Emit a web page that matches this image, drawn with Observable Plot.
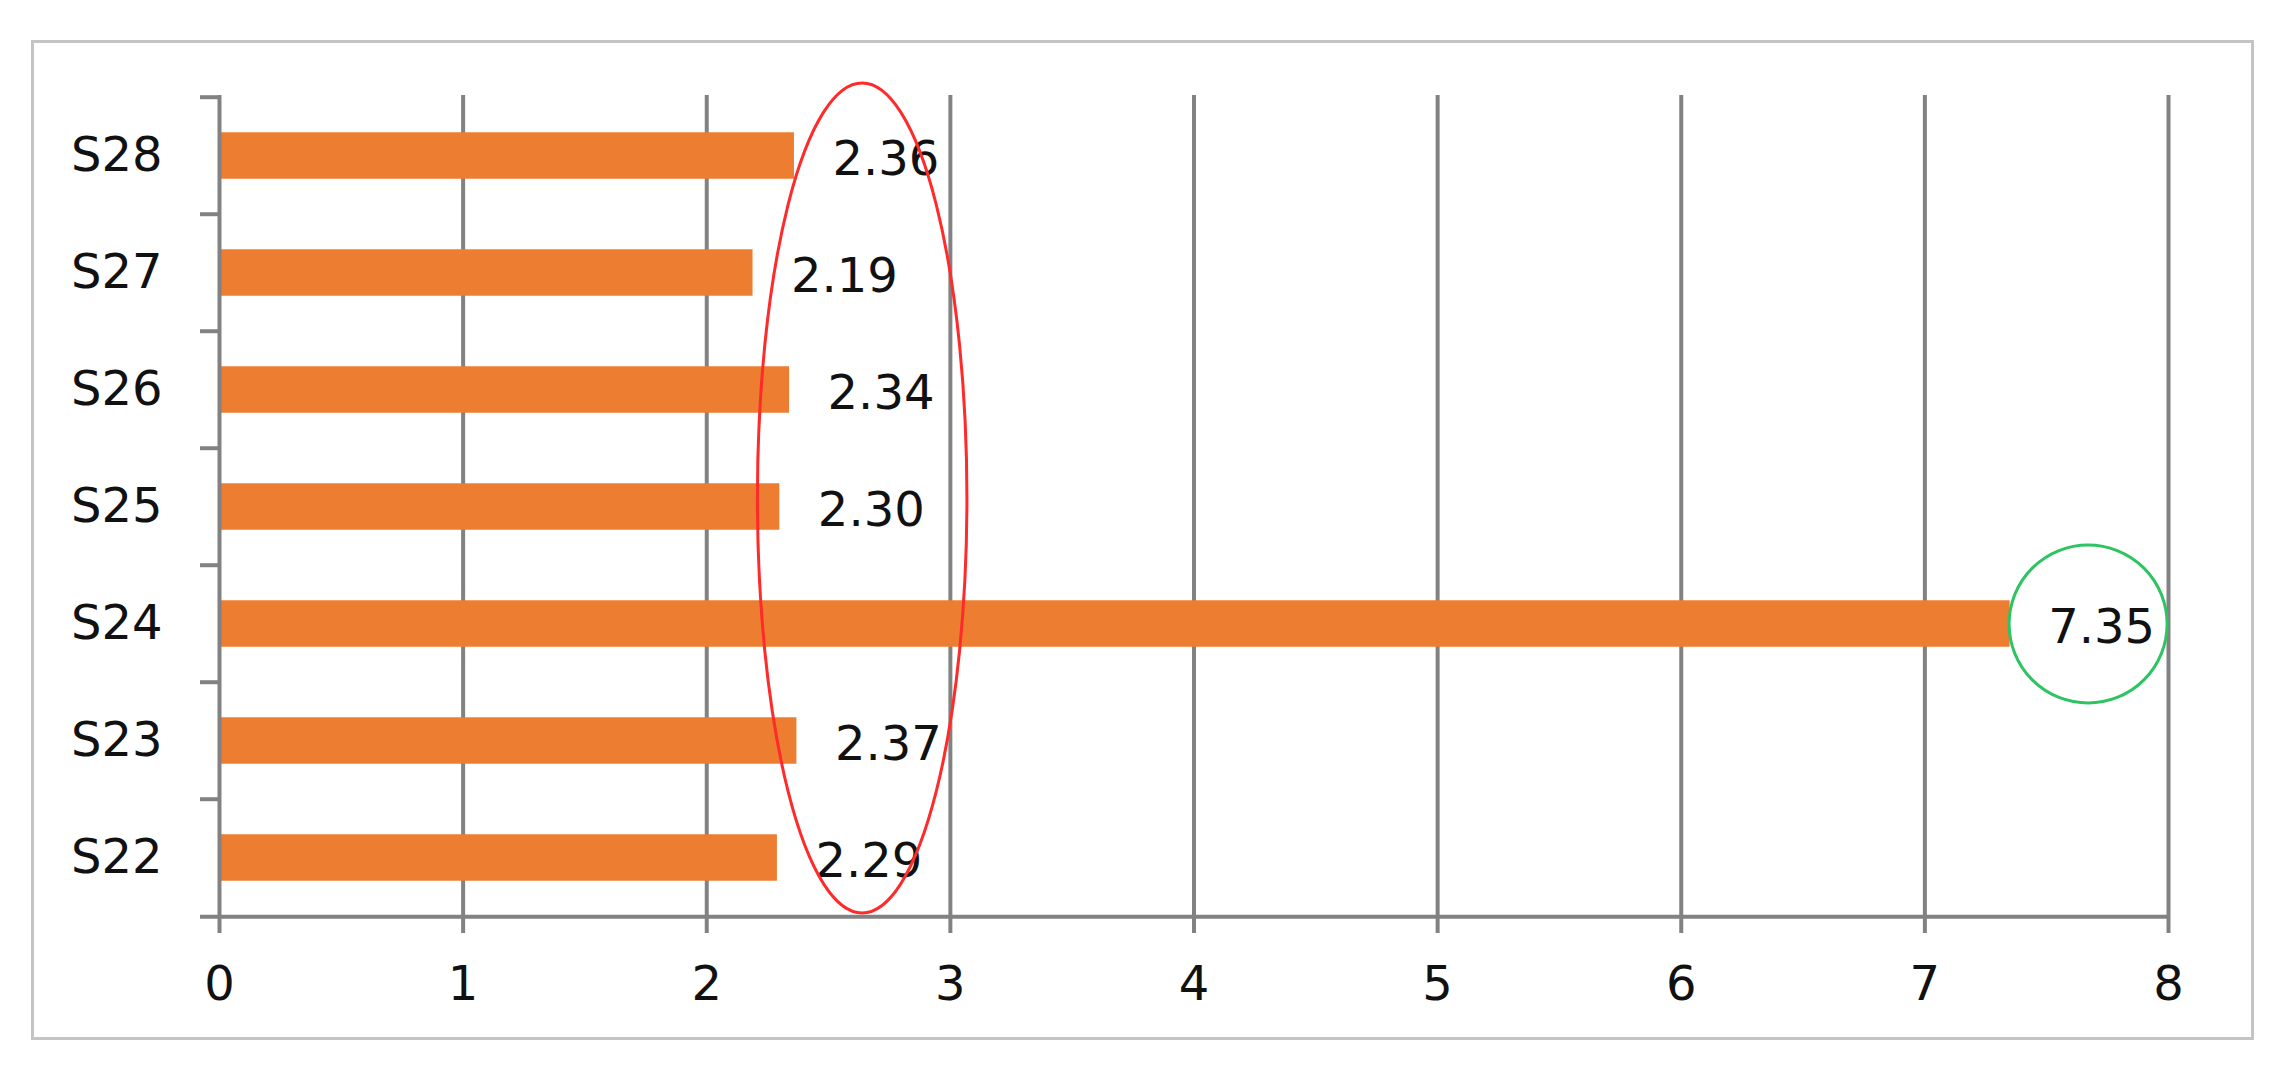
<!DOCTYPE html>
<html><head><meta charset="utf-8">
<script src="https://cdn.jsdelivr.net/npm/d3@7"></script>
<script src="https://cdn.jsdelivr.net/npm/@observablehq/plot@0.6"></script>
<style>
html,body{margin:0;padding:0;background:#fff;}
#wrap{position:relative;width:2280px;height:1075px;overflow:hidden;}
#border{position:absolute;left:31px;top:40px;width:2223px;height:1000px;border:3px solid #c4c4c4;box-sizing:border-box;}
#chart{position:absolute;left:0;top:0;}
</style></head><body>
<div id="wrap"><div id="border"></div><div id="chart"></div></div>
<script>
const categories = ["S28", "S27", "S26", "S25", "S24", "S23", "S22"];
const values = [2.36, 2.19, 2.34, 2.30, 7.35, 2.37, 2.29];
const valueLabels = ["2.36", "2.19", "2.34", "2.30", "7.35", "2.37", "2.29"];
const xTicks = [0, 1, 2, 3, 4, 5, 6, 7, 8];

const W = 2280, H = 1075, mT = 95, mB = 157, mL = 219, mR = 112;
const bw = (H - mT - mB) / categories.length;
const data = categories.map((c, i) => ({cat: c, value: values[i], label: valueLabels[i]}));
const gray = "#828282";
const fs = 48;

const chart = Plot.plot({
  width: W, height: H,
  marginTop: mT, marginBottom: mB, marginLeft: mL, marginRight: mR,
  style: {fontFamily: "DejaVu Sans", fontSize: fs + "px", color: "#111", background: "transparent", overflow: "visible"},
  x: {domain: [0, 8]},
  y: {domain: categories, padding: 0},
  marks: [
    Plot.ruleX(xTicks.slice(1), {stroke: gray, strokeWidth: 4}),
    Plot.barX(data, {x: "value", y: "cat", fill: "#ED7D31", insetTop: bw * 0.3, insetBottom: bw * 0.3}),
    Plot.ruleX([0], {stroke: gray, strokeWidth: 4}),
    Plot.ruleY(categories, {y: d => d, dy: -bw / 2, x1: 0, x2: 0, insetLeft: -19, stroke: gray, strokeWidth: 4}),
    Plot.ruleY([categories[categories.length - 1]], {y: d => d, dy: bw / 2, x1: 0, x2: 8, insetLeft: -19, stroke: gray, strokeWidth: 4}),
    Plot.axisX({ticks: xTicks, tickSize: 15, tickPadding: 32, stroke: gray, strokeWidth: 4, label: null, tickFormat: d => String(d), fontSize: fs}),
    Plot.axisY({tickSize: 0, tickPadding: 57, label: null, fontSize: fs}),
    Plot.text(data, {x: "value", y: "cat", text: "label", dx: 38, dy: 4, textAnchor: "start", fill: "#111", fontSize: fs}),
    Plot.rect([{x1: 2.21, x2: 3.07}], {x1: "x1", x2: "x2", insetTop: -12, insetBottom: 5, rx: 110, ry: 420, stroke: "#ff2a2a", strokeWidth: 3, fill: "none"}),
    Plot.dot([{x: 7.67, cat: "S24"}], {x: "x", y: "cat", r: 79, stroke: "#2ec462", strokeWidth: 3, fill: "none"})
  ]
});
document.getElementById("chart").appendChild(chart);
</script>
</body></html>
